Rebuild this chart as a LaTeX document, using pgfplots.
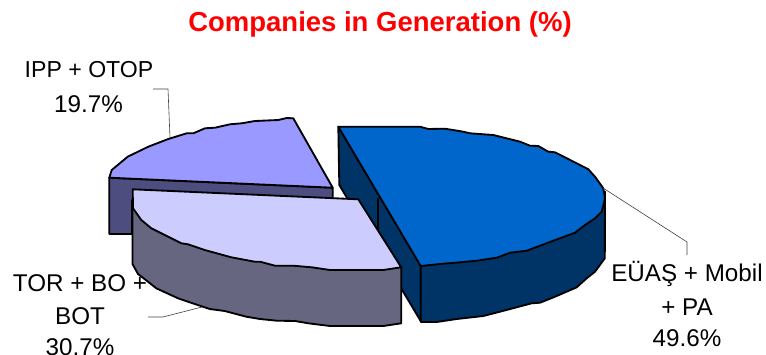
\documentclass[border=0pt]{standalone}
\usepackage{fontspec}
\setmainfont{Liberation Sans}
\usepackage{pgfplots}
\pgfplotsset{compat=1.18}
\definecolor{euastop}{HTML}{0066CC}
\definecolor{euasside}{HTML}{003366}
\definecolor{ipptop}{HTML}{9999FF}
\definecolor{ippside}{HTML}{4D4D80}
\definecolor{tortop}{HTML}{CCCCFF}
\definecolor{torside}{HTML}{666680}
\newcommand{\lab}{\fontsize{24.3}{28}\selectfont}
\begin{document}
\begin{tikzpicture}
\path[use as bounding box] (0,0) rectangle (766bp,355bp);
\begin{axis}[
  at={(0,0)}, anchor=south west,
  scale only axis, width=766bp, height=355bp,
  xmin=0, xmax=766, ymin=0, ymax=355, y dir=reverse,
  hide axis, clip=false, no markers,
  slice/.style={draw=black, line width=1.85pt, line join=round},
  leader/.style={draw=black!75, line width=0.6pt, line join=miter},
]
% IPP + OTOP slice: side wall, then top face
\addplot[slice, fill=ippside] coordinates {(109.3,177.7)(332.7,187.7)(332.7,200)(132,200)(132,234)(109.3,234)} --cycle;
\addplot[slice, fill=ipptop] coordinates {(332.7,187.7)(293.3,118.3)(286.7,118)(278.3,120)(255,121)(241.7,123.3)(230,124.3)(215,127.7)(205,128.3)(193.3,133.3)(186.7,133.3)(168.3,139)(148.3,146.7)(127.7,156.7)(111.7,170)(109.3,177.7)} --cycle;
% EÜAŞ + Mobil + PA slice: inner walls, outer wall, top face
\addplot[slice, fill=euasside] coordinates {(338.3,126.7)(339.3,185)(420.7,321)(420.7,265.3)} --cycle;
\addplot[slice] coordinates {(378.3,198)(378.3,235)};
\addplot[slice, fill=euasside] coordinates {(605,191.7)(604.8,258.3)(595,271.7)(586.7,278.3)(576.7,287.3)(555,296.7)(540,302.7)(531.7,303.3)(500,311.7)(483.3,316)(456.7,319)(436.7,322)(420.7,322)(420.7,265.3)} --cycle;
\addplot[slice, fill=euastop] coordinates {(338.3,126.7)(420,126.7)(428.3,129)(445,128.7)(463.3,131.7)(470,133.3)(493.3,135)(520,141.7)(530,145.7)(538.3,146)(548.3,151.7)(555,152.3)(576.7,163.3)(588.3,169.3)(595,176.7)(603.3,188.3)(605,198.3)(601.7,211.7)(595,218.3)(585,225)(575,232.7)(553.3,240.7)(526.7,250.7)(510,252.7)(496.7,257.7)(476.7,260.7)(460,262.3)(440,264)(420.7,266)} --cycle;
% TOR + BO + BOT slice: outer wall, top face
\addplot[slice, fill=torside] coordinates {(132.5,207.3)(132.5,264)(138,274)(148,281.7)(156.3,288.3)(178,298.3)(194.7,304)(209.7,309)(224.7,311)(246.3,316.7)(260,319)(276.7,320.7)(295,321)(308.3,323.3)(330,326)(383.3,326)(401.2,323.3)(401.2,267.3)} --cycle;
\addplot[slice, fill=tortop] coordinates {(132.7,189.3)(358.3,199.3)(401.2,267.3)(383.3,270)(330,270)(311.7,267.3)(293.3,265.7)(275,265.7)(260,261.7)(254.7,261.7)(231.3,257.3)(204.7,250)(188,244.3)(181.3,243.3)(161.3,233.3)(151.3,228.3)(141.3,220)(133,208.3)} --cycle;
% Leader lines
\addplot[leader] coordinates {(153,89)(168,89)(170,138)};
\addplot[leader] coordinates {(148,317)(163,317)(202,307)};
\addplot[leader] coordinates {(603,188)(687,242)(687,255)};
% Title and labels
\node[anchor=base, text=red, font=\fontsize{27.6}{30}\selectfont\bfseries] at (axis cs:380,31.5) {Companies in Generation (\%)};
\node[anchor=base, font=\fontsize{23.2}{28}\selectfont] at (axis cs:89,77.5) {IPP + OTOP};
\node[anchor=base, font=\lab] at (axis cs:88.5,112.7) {19.7\%};
\node[anchor=base, font=\lab] at (axis cs:80,291.7) {TOR + BO +};
\node[anchor=base, font=\lab] at (axis cs:80,324.5) {BOT};
\node[anchor=base, font=\lab] at (axis cs:80,355) {30.7\%};
\node[anchor=base, font=\lab] at (axis cs:687,281.7) {EÜAŞ + Mobil};
\node[anchor=base, font=\lab] at (axis cs:687,315.5) {+ PA};
\node[anchor=base, font=\lab] at (axis cs:687,346.7) {49.6\%};
\end{axis}
\end{tikzpicture}
\end{document}
